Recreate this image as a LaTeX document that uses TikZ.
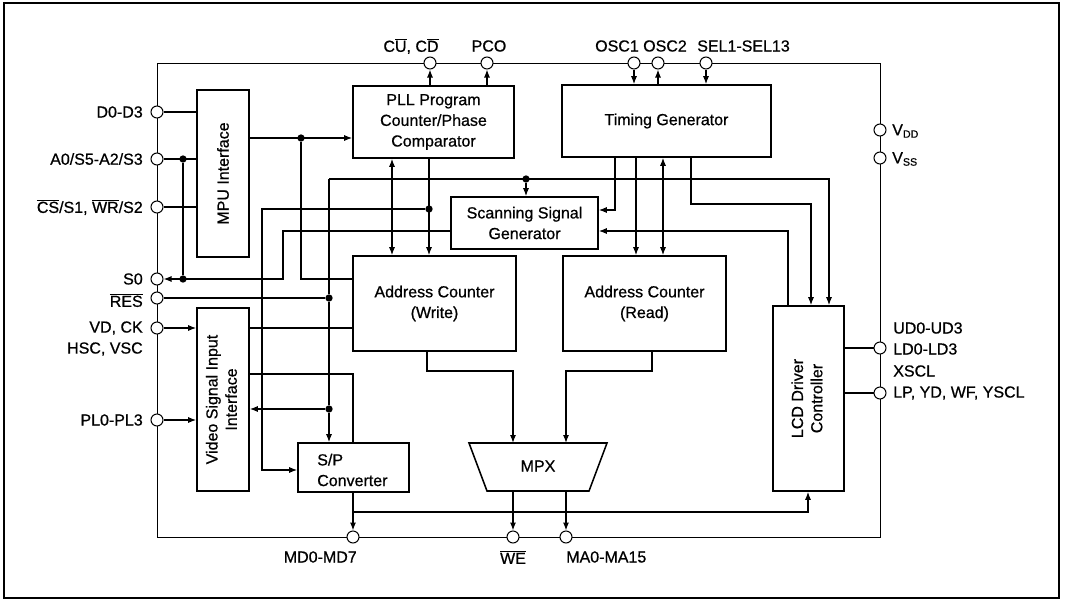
\documentclass[tikz,border=0pt]{standalone}
\usepackage{fontspec}
\setmainfont[FakeBold=0.7]{Liberation Sans}
\usetikzlibrary{arrows.meta}
\newcommand\ovl[1]{$\overline{\mbox{#1}}$}
\begin{document}
\begin{tikzpicture}[x=0.75pt,y=-0.75pt,
  font=\fontsize{12}{15.5}\selectfont,
  blk/.style={draw, line width=1.15pt, inner sep=0pt, align=center},
  wire/.style={line width=0.9pt},
  arr/.style={wire, -{Latex[length=6pt,width=4.5pt]}},
  darr/.style={wire, {Latex[length=6pt,width=4.5pt]}-{Latex[length=6pt,width=4.5pt]}},
  pinc/.style={circle, draw, fill=white, line width=0.75pt, minimum size=9pt, inner sep=0pt},
  jdot/.style={circle, fill, minimum size=5.5pt, inner sep=0pt},
  lbl/.style={inner sep=0pt}]
\useasboundingbox (0,0) rectangle (1065,604);
\draw[line width=1.4pt] (4,3) rectangle (1059,598);
% chip boundary
\draw[line width=0.75pt] (157,63) rectangle (880,537);
% pins
\node[pinc] (pD) at (157,112) {};
\node[pinc] (pA) at (157,159) {};
\node[pinc] (pCS) at (157,207) {};
\node[pinc] (pS0) at (157,279) {};
\node[pinc] (pRES) at (157,298) {};
\node[pinc] (pVD) at (157,328) {};
\node[pinc] (pPL) at (157,420) {};
\node[pinc] (pCU) at (430,63) {};
\node[pinc] (pPCO) at (487,63) {};
\node[pinc] (pOSC1) at (634,63) {};
\node[pinc] (pOSC2) at (658,63) {};
\node[pinc] (pSEL) at (706,63) {};
\node[pinc] (pVDD) at (880,130) {};
\node[pinc] (pVSS) at (880,158) {};
\node[pinc] (pUD) at (880,348) {};
\node[pinc] (pLP) at (880,393) {};
\node[pinc] (pMD) at (353,537) {};
\node[pinc] (pWE) at (513,537) {};
\node[pinc] (pMA) at (566,537) {};
% pin labels
\node[lbl, anchor=east] (tD) at (143,112) {D0-D3};
\node[lbl, anchor=east] (tA) at (143,159) {A0/S5-A2/S3};
\node[lbl, anchor=east] (tCS) at (143,207) {\ovl{CS}/S1, \ovl{WR}/S2};
\node[lbl, anchor=east] (tS0) at (143,279) {S0};
\node[lbl, anchor=east] (tRES) at (143,300) {\ovl{RES}};
\node[lbl, anchor=east] (tVD) at (143,328) {VD, CK};
\node[lbl, anchor=east] (tHSC) at (143,349) {HSC, VSC};
\node[lbl, anchor=east] (tPL) at (143,420) {PL0-PL3};
\node[lbl] (tCU) at (411,46) {C\ovl{U}, C\ovl{D}};
\node[lbl] (tPCO) at (489,46) {PCO};
\node[lbl] (tOSC1) at (617,46) {OSC1};
\node[lbl] (tOSC2) at (665,46) {OSC2};
\node[lbl, anchor=west] (tSEL) at (697,46) {SEL1-SEL13};
\node[lbl, anchor=west] (tVDD) at (892,131) {V\textsubscript{DD}};
\node[lbl, anchor=west] (tVSS) at (892,159) {V\textsubscript{SS}};
\node[lbl, anchor=west] (tUD) at (893,328) {UD0-UD3};
\node[lbl, anchor=west] (tLD) at (893,349) {LD0-LD3};
\node[lbl, anchor=west] (tXS) at (893,371) {XSCL};
\node[lbl, anchor=west] (tLP) at (893,393) {LP, YD, WF, YSCL};
\node[lbl, anchor=east] (tMD) at (357,557) {MD0-MD7};
\node[lbl] (tWE) at (513,557) {\ovl{WE}};
\node[lbl, anchor=west] (tMA) at (566,557) {MA0-MA15};
% blocks
\node[blk, minimum width=39pt, minimum height=125.25pt] (mpu) at (223,173.5) {\rotatebox{90}{MPU Interface}};
\node[blk, minimum width=120.75pt, minimum height=54pt] (pll) at (433.5,122) {PLL Program\\Counter/Phase\\Comparator};
\node[blk, minimum width=156.75pt, minimum height=54pt] (tg) at (666.5,121) {Timing Generator};
\node[blk, minimum width=110.25pt, minimum height=39pt] (ssg) at (524.5,223) {Scanning Signal\\Generator};
\node[blk, minimum width=122.25pt, minimum height=71.25pt] (acw) at (434.5,303.5) {Address Counter\\(Write)};
\node[blk, minimum width=122.25pt, minimum height=71.25pt] (acr) at (644.5,303.5) {Address Counter\\(Read)};
\node[blk, minimum width=53.25pt, minimum height=138.75pt] (lcd) at (808.5,398.5) {\rotatebox{90}{\begin{tabular}{@{}c@{}}LCD Driver\\[-1pt]Controller\end{tabular}}};
\node[blk, minimum width=39pt, minimum height=137.25pt] (vsi) at (223,399.5) {\rotatebox{90}{\begin{tabular}{@{}c@{}}Video Signal Input\\[-1pt]Interface\end{tabular}}};
\node[blk, minimum width=83.25pt, minimum height=36.75pt] (sp) at (353.5,467.5) {};
\node[lbl, align=left, anchor=west] (sptxt) at (317,470) {S/P\\Converter};
\draw[line width=1.15pt] (469,443) -- (607,443) -- (589,491) -- (487,491) -- cycle;
\node[lbl] (mpx) at (538,466) {MPX};
\coordinate (mpxT1) at (513,443);
\coordinate (mpxT2) at (566,443);
\coordinate (mpxB1) at (513,491);
\coordinate (mpxB2) at (566,491);
% left pins to MPU
\draw[wire] (pD) -- (pD -| mpu.west);
\draw[wire] (pA) -- (pA -| mpu.west);
\draw[wire] (pCS) -- (pCS -| mpu.west);
\node[jdot] (dA1) at (183,159) {};
\node[jdot] (dA2) at (183,279) {};
\draw[wire] (dA1) -- (dA2);
% MPU -> PLL, ACW
\draw[arr] (mpu.east |- 0,138) -- (pll.west |- 0,138);
\node[jdot] (dM) at (301,138) {};
\draw[wire] (dM) -- (301,279) -- (acw.west |- 0,279);
% SSG -> S0
\draw[arr] (ssg.west |- 0,231) -- (283,231) -- (283,279) -- (pS0);
% RES distribution
\node[jdot] (dR1) at (329,298) {};
\node[jdot] (dR2) at (329,409) {};
\node[jdot] (dR3) at (526,179) {};
\draw[wire] (pRES) -- (dR1);
\draw[arr] (329,179) -- (dR1) -- (dR2) -- (sp.north -| 329,0);
\draw[arr] (dR2) -- (vsi.east |- dR2);
\draw[arr] (329,179) -- (829,179) -- (lcd.north -| 829,0);
\draw[arr] (dR3) -- (ssg.north -| dR3);
% PLL <-> ACW
\draw[darr] (pll.south -| 392,0) -- (acw.north -| 392,0);
\draw[arr] (pll.south -| 429,0) -- (acw.north -| 429,0);
\node[jdot] (dP) at (429,209) {};
\draw[arr] (dP) -- (262,209) -- (262,470) -- (sp.west |- 0,470);
% PLL -> top pins
\draw[arr] (pll.north -| pCU) -- (pCU);
\draw[arr] (pll.north -| pPCO) -- (pPCO);
% TG pins
\draw[arr] (pOSC1) -- (tg.north -| pOSC1);
\draw[arr] (tg.north -| pOSC2) -- (pOSC2);
\draw[arr] (pSEL) -- (tg.north -| pSEL);
% TG -> SSG, ACR, LCD
\draw[arr] (tg.south -| 615,0) -- (615,210) -- (ssg.east |- 0,210);
\draw[arr] (tg.south -| 636,0) -- (acr.north -| 636,0);
\draw[darr] (tg.south -| 663,0) -- (acr.north -| 663,0);
\draw[arr] (tg.south -| 691,0) -- (691,204) -- (811,204) -- (lcd.north -| 811,0);
% LCD -> SSG
\draw[arr] (lcd.north -| 788,0) -- (788,231) -- (ssg.east |- 0,231);
% VSI
\draw[arr] (pVD) -- (pVD -| vsi.west);
\draw[arr] (pPL) -- (pPL -| vsi.west);
\draw[wire] (vsi.east |- 0,328) -- (acw.west |- 0,328);
\draw[wire] (vsi.east |- 0,374) -- (353,374) -- (sp.north -| 353,0);
% S/P outputs
\draw[arr] (sp.south -| pMD) -- (pMD);
\draw[arr] (353,512) -- (808,512) -- (lcd.south -| 808,0);
% address counters -> MPX
\draw[arr] (acw.south -| 427,0) -- (427,371) -- (513,371) -- (mpxT1);
\draw[arr] (acr.south -| 652,0) -- (652,371) -- (566,371) -- (mpxT2);
\draw[arr] (mpxB1) -- (pWE);
\draw[arr] (mpxB2) -- (pMA);
% LCD -> right pins
\draw[wire] (lcd.east |- pUD) -- (pUD);
\draw[wire] (lcd.east |- pLP) -- (pLP);
\end{tikzpicture}
\end{document}
